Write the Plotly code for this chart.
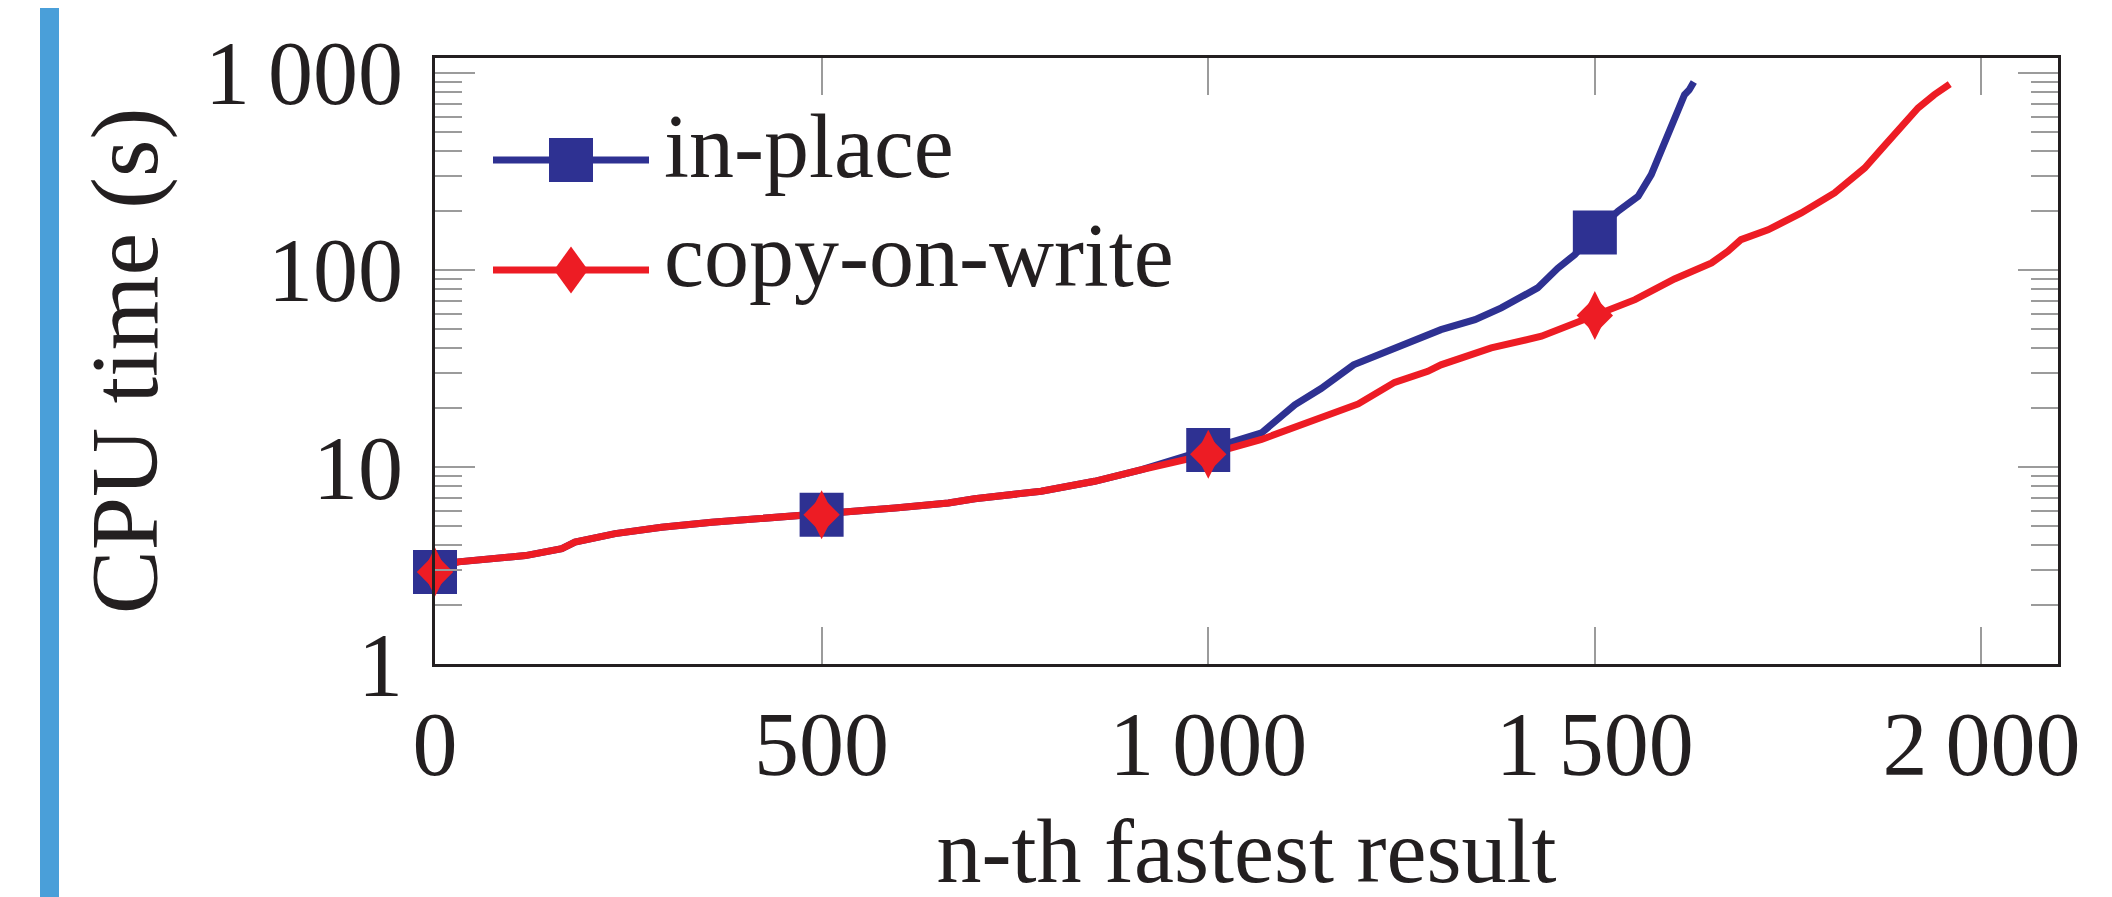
import plotly.graph_objects as go

# ---------------- data ----------------
series_names = ["in-place", "copy-on-write"]

x_inplace = [0, 10, 30, 117, 164, 181, 233, 293, 358, 422, 500, 595, 664, 698, 784, 853,
             914, 1000, 1069, 1112, 1146, 1188, 1241, 1284, 1301, 1345, 1379, 1426, 1452,
             1474, 1500, 1530, 1556, 1573, 1586, 1603, 1616, 1622, 1628]
t_inplace = [2.93, 3.15, 3.30, 3.55, 3.85, 4.16, 4.59, 4.94, 5.24, 5.47, 5.72, 6.19, 6.56,
             6.90, 7.53, 8.46, 9.69, 12.2, 14.9, 20.7, 25.0, 33.0, 40.0, 46.1, 49.8, 56.0,
             64.2, 81.1, 102, 119.6, 155, 198.6, 236.6, 305, 408, 591, 776, 820, 900]

x_cow = [0, 10, 30, 117, 164, 181, 233, 293, 358, 422, 500, 595, 664, 698, 784, 853, 914,
         1000, 1069, 1129, 1165, 1194, 1241, 1284, 1301, 1366, 1431, 1500, 1552, 1603, 1651,
         1672, 1689, 1724, 1767, 1810, 1849, 1870, 1896, 1918, 1939, 1959]
t_cow = [2.93, 3.15, 3.30, 3.55, 3.85, 4.16, 4.59, 4.94, 5.24, 5.47, 5.72, 6.19, 6.56, 6.90,
         7.53, 8.46, 9.69, 11.6, 13.8, 16.7, 19.0, 20.9, 26.9, 30.6, 33.0, 40.2, 46.1, 58.8,
         70.7, 90.0, 108.6, 124.5, 142.6, 160, 194.7, 246, 329.5, 408, 526, 664, 776, 879]

mark_x = [0, 500, 1000, 1500]

x_tickvals = [0, 500, 1000, 1500, 2000]
x_ticktext = ["0", "500", "1\u2009000", "1\u2009500", "2\u2009000"]
y_tickvals = [1, 10, 100, 1000]
y_ticktext = ["1", "10", "100", "1\u2009000"]

x_title = "n-th fastest result"
y_title = "CPU time (s)"

# ---------------- styling ----------------
W, H = 2112, 897
L, R, T, B = 427, 2050, 50, 656
BLUE = "#2e3192"
RED = "#ed1c24"
INK = "#231f20"
TICK = "#9b9b9b"
FONT = "Liberation Serif"
FS = 90
LW = 7


def pick(xs, ys, keep):
    px = [x for x in xs if x in keep]
    py = [y for x, y in zip(xs, ys) if x in keep]
    return px, py


def fx(p):
    return (p - L) / (R - L)


def fy(p):
    return (B - p) / (B - T)


fig = go.Figure()

# lines first (red over blue), markers afterwards
fig.add_trace(go.Scatter(x=x_inplace, y=t_inplace, mode="lines", name=series_names[0],
                         line=dict(color=BLUE, width=LW), showlegend=False))
fig.add_trace(go.Scatter(x=x_cow, y=t_cow, mode="lines", name=series_names[1],
                         line=dict(color=RED, width=LW), showlegend=False))

mx, my = pick(x_inplace, t_inplace, mark_x)
fig.add_trace(go.Scatter(x=mx, y=my, mode="markers", name=series_names[0], showlegend=False,
                         cliponaxis=False,
                         marker=dict(symbol="square", size=44, color=BLUE, line=dict(width=0))))
mx, my = pick(x_cow, t_cow, mark_x)
fig.add_trace(go.Scatter(x=mx, y=my, mode="markers", name=series_names[1], showlegend=False,
                         cliponaxis=False,
                         marker=dict(symbol="diamond-tall", size=35, color=RED, line=dict(width=0))))
fig.add_trace(go.Scatter(x=mx, y=my, mode="markers", name=series_names[1], showlegend=False,
                         cliponaxis=False,
                         marker=dict(symbol="diamond", size=28, color=RED, line=dict(width=0))))

# legend keys (drawn as shapes so the big markers match) + legend text
shapes = [
    dict(type="rect", xref="paper", yref="paper", x0=fx(32), x1=fx(51), y0=fy(897), y1=fy(0),
         fillcolor="#4a9fd9", line=dict(width=0), layer="above"),
    dict(type="line", xref="paper", yref="paper", x0=fx(485), x1=fx(641), y0=fy(152), y1=fy(152),
         line=dict(color=BLUE, width=LW)),
    dict(type="rect", xref="paper", yref="paper", x0=fx(541), x1=fx(585), y0=fy(174), y1=fy(130),
         fillcolor=BLUE, line=dict(width=0)),
    dict(type="line", xref="paper", yref="paper", x0=fx(485), x1=fx(641), y0=fy(262), y1=fy(262),
         line=dict(color=RED, width=LW)),
    dict(type="path", xref="paper", yref="paper",
         path="M{a},{b} L{c},{d} L{a},{e} L{f},{d} Z".format(
             a=fx(563), b=fy(238.5), c=fx(580), d=fy(262), e=fy(285.5), f=fx(546)),
         fillcolor=RED, line=dict(width=0)),
]
annotations = [
    dict(text=series_names[0], xref="paper", yref="paper", x=fx(654), y=fy(139),
         xanchor="left", yanchor="middle", showarrow=False,
         font=dict(family=FONT, size=FS, color=INK)),
    dict(text=series_names[1], xref="paper", yref="paper", x=fx(654), y=fy(247),
         xanchor="left", yanchor="middle", showarrow=False,
         font=dict(family=FONT, size=FS, color=INK)),
]

axis_common = dict(
    showline=True, linewidth=3, linecolor=INK, mirror="ticks",
    ticks="inside", tickwidth=2, tickcolor=TICK,
    showgrid=False, zeroline=False,
    tickfont=dict(family=FONT, size=FS, color=INK),
)

fig.update_layout(
    width=W, height=H,
    margin=dict(l=L, r=W - R, t=T, b=H - B, pad=0),
    paper_bgcolor="white", plot_bgcolor="white",
    showlegend=False,
    shapes=shapes,
    annotations=annotations,
    xaxis=dict(range=[0, 2099], tickvals=x_tickvals, ticktext=x_ticktext, ticklen=37,
               title=dict(text=x_title, font=dict(family=FONT, size=FS, color=INK), standoff=26),
               **axis_common),
    yaxis=dict(type="log", range=[0, 3.0761], tickvals=y_tickvals, ticktext=y_ticktext,
               ticklen=40, ticklabelstandoff=11,
               minor=dict(ticks="inside", ticklen=27, tickwidth=2, tickcolor=TICK,
                          dtick="D1", showgrid=False),
               title=dict(text=y_title, font=dict(family=FONT, size=96, color=INK), standoff=16),
               **axis_common),
)

fig.write_html("out.html")
